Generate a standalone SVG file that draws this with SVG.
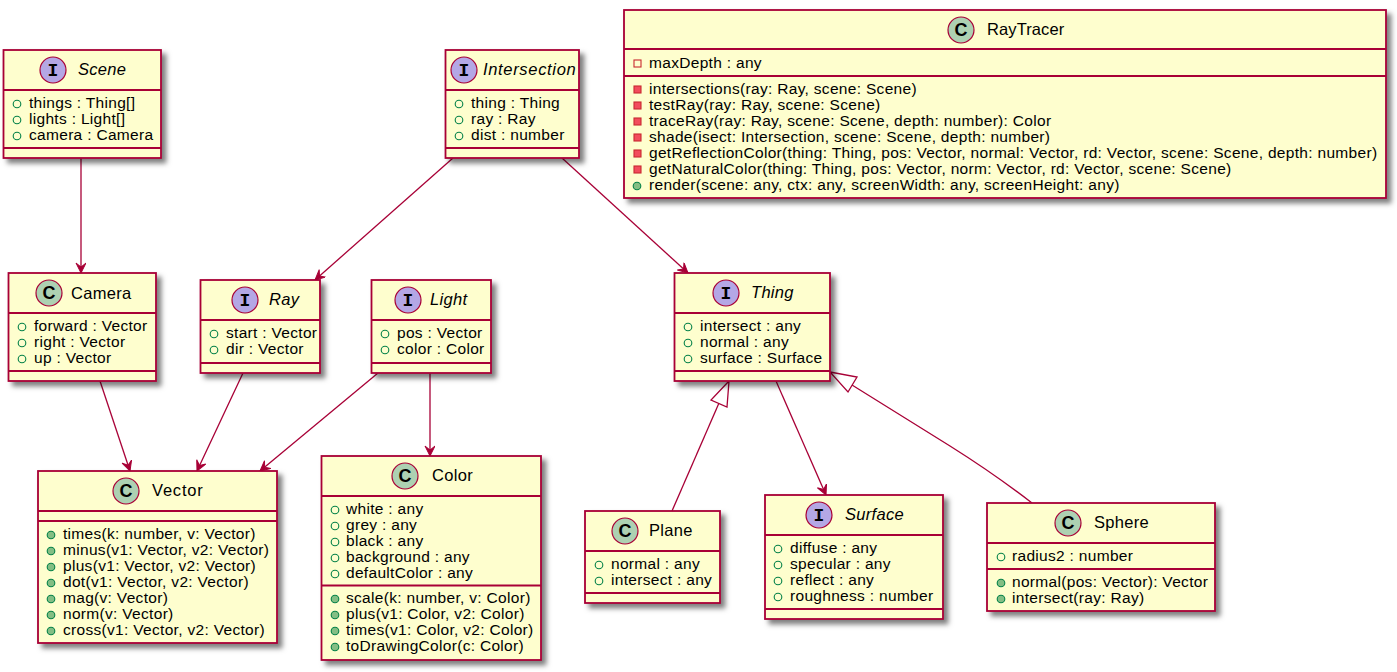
<svg xmlns="http://www.w3.org/2000/svg" width="1397" height="672" viewBox="0 0 1397 672">
<style>
text{font-family:"Liberation Sans",Arial,sans-serif;font-size:15.5px;letter-spacing:.31px;fill:#000}
.t{font-size:16.5px;letter-spacing:.3px}
.a{font-style:italic}
.box{fill:#FEFECE;stroke:#A80036;stroke-width:1.8;filter:url(#sh)}
.ln{stroke:#A80036;stroke-width:1.8;fill:none}
.ic{stroke:#A80036;stroke-width:1.2}
.c{fill:#ADD1B2}
.i{fill:#B4A7E5}
.g{font-family:"Liberation Mono",monospace;font-size:18px;letter-spacing:0;font-weight:bold;text-anchor:middle}
.gc{font-size:18px;letter-spacing:0;font-weight:bold;text-anchor:middle}
.pf{fill:none;stroke:#038048;stroke-width:1.1}
.pm{fill:#84BE84;stroke:#038048;stroke-width:1.1}
.vf{fill:none;stroke:#C82930;stroke-width:1.1}
.vm{fill:#F24D5C;stroke:#C82930;stroke-width:1.1}
.e{stroke:#A80036;stroke-width:1.3;fill:none}
.arr{marker-end:url(#open)}
.inh{fill:#fff;stroke:#A80036;stroke-width:1.3}
</style>
<defs>
<filter id="sh" x="-10%" y="-10%" width="125%" height="125%"><feDropShadow dx="4.5" dy="4.5" stdDeviation="2.5" flood-color="#000" flood-opacity="0.5"/></filter>
<marker id="open" markerUnits="userSpaceOnUse" markerWidth="14" markerHeight="12" refX="12" refY="5" orient="auto"><path d="M2,0 L12,5 L2,10 L6,5 Z" fill="#A80036" stroke="#A80036" stroke-width="1"/></marker>
</defs>
<g id="connectors">
<path class="e arr" d="M81,158 L81,273"/>
<path class="e arr" d="M100,381 L130,471"/>
<path class="e arr" d="M243,373 L197,471"/>
<path class="e arr" d="M378,373 L260,471"/>
<path class="e arr" d="M430,373 L430,456"/>
<path class="e arr" d="M453,158 L315,280"/>
<path class="e arr" d="M562,158 L688,273"/>
<path class="e arr" d="M776,381 L826,495"/>
<path class="e" d="M672,511 L719,403"/>
<path class="inh" d="M729,381 L711,400 L727,407 Z"/>
<path class="e" d="M1032,503 C1010,486 985,468 950,446 L852,385"/>
<path class="inh" d="M830,372 L857,377 L848,392 Z"/>
</g>
<g id="Scene"><rect class="box" x="3.5" y="50" width="157.5" height="108"/><path class="ln" d="M3.5,90H161M3.5,148H161"/><circle class="ic i" cx="53" cy="70" r="13"/><text class="g" x="53" y="76">I</text><text class="t a" x="78" y="75">Scene</text>
<circle class="pf" cx="17" cy="104" r="3.8"/><text x="29" y="108">things : Thing[]</text><circle class="pf" cx="17" cy="120" r="3.8"/><text x="29" y="124">lights : Light[]</text><circle class="pf" cx="17" cy="136" r="3.8"/><text x="29" y="140">camera : Camera</text></g>
<g id="Intersection"><rect class="box" x="445.5" y="50" width="133.5" height="108"/><path class="ln" d="M445.5,90H579M445.5,148H579"/><circle class="ic i" cx="464" cy="70" r="13"/><text class="g" x="464" y="76">I</text><text class="t a" x="483" y="75" textLength="93" lengthAdjust="spacing">Intersection</text>
<circle class="pf" cx="459" cy="104" r="3.8"/><text x="471" y="108">thing : Thing</text><circle class="pf" cx="459" cy="120" r="3.8"/><text x="471" y="124">ray : Ray</text><circle class="pf" cx="459" cy="136" r="3.8"/><text x="471" y="140">dist : number</text></g>
<g id="RayTracer"><rect class="box" x="624" y="10" width="762" height="188"/><path class="ln" d="M624,49H1386M624,76H1386"/><circle class="ic c" cx="961" cy="30" r="13"/><text class="gc" x="961" y="36">C</text><text class="t" x="987" y="35" style="letter-spacing:.1px">RayTracer</text>
<rect class="vf" x="634" y="60" width="7" height="7"/><text x="649" y="68">maxDepth : any</text>
<rect class="vm" x="634" y="86" width="7" height="7"/><text x="649" y="94">intersections(ray: Ray, scene: Scene)</text>
<rect class="vm" x="634" y="102" width="7" height="7"/><text x="649" y="110">testRay(ray: Ray, scene: Scene)</text>
<rect class="vm" x="634" y="118" width="7" height="7"/><text x="649" y="126">traceRay(ray: Ray, scene: Scene, depth: number): Color</text>
<rect class="vm" x="634" y="134" width="7" height="7"/><text x="649" y="142">shade(isect: Intersection, scene: Scene, depth: number)</text>
<rect class="vm" x="634" y="150" width="7" height="7"/><text x="649" y="158">getReflectionColor(thing: Thing, pos: Vector, normal: Vector, rd: Vector, scene: Scene, depth: number)</text>
<rect class="vm" x="634" y="166" width="7" height="7"/><text x="649" y="174">getNaturalColor(thing: Thing, pos: Vector, norm: Vector, rd: Vector, scene: Scene)</text>
<circle class="pm" cx="637" cy="186" r="3.8"/><text x="649" y="190">render(scene: any, ctx: any, screenWidth: any, screenHeight: any)</text></g>
<g id="Camera"><rect class="box" x="8.5" y="273" width="147.5" height="108"/><path class="ln" d="M8.5,313H156M8.5,371H156"/><circle class="ic c" cx="49" cy="293" r="13"/><text class="gc" x="49" y="299">C</text><text class="t" x="71" y="298.500">Camera</text>
<circle class="pf" cx="22" cy="327" r="3.8"/><text x="34" y="331">forward : Vector</text><circle class="pf" cx="22" cy="343" r="3.8"/><text x="34" y="347">right : Vector</text><circle class="pf" cx="22" cy="359" r="3.8"/><text x="34" y="363">up : Vector</text></g>
<g id="Ray"><rect class="box" x="200.5" y="280" width="119.5" height="93"/><path class="ln" d="M200.5,320H320M200.5,363H320"/><circle class="ic i" cx="245" cy="300" r="13"/><text class="g" x="245" y="306">I</text><text class="t a" x="269" y="305">Ray</text>
<circle class="pf" cx="214" cy="334" r="3.8"/><text x="226" y="338">start : Vector</text><circle class="pf" cx="214" cy="350" r="3.8"/><text x="226" y="354">dir : Vector</text></g>
<g id="Light"><rect class="box" x="371.5" y="280" width="119.5" height="93"/><path class="ln" d="M371.5,320H491M371.5,363H491"/><circle class="ic i" cx="408" cy="300" r="13"/><text class="g" x="408" y="306">I</text><text class="t a" x="430" y="305">Light</text>
<circle class="pf" cx="385" cy="334" r="3.8"/><text x="397" y="338">pos : Vector</text><circle class="pf" cx="385" cy="350" r="3.8"/><text x="397" y="354">color : Color</text></g>
<g id="Thing"><rect class="box" x="674.5" y="273" width="155.5" height="108"/><path class="ln" d="M674.5,313H830M674.5,371H830"/><circle class="ic i" cx="726" cy="293" r="13"/><text class="g" x="726" y="299">I</text><text class="t a" x="751" y="298">Thing</text>
<circle class="pf" cx="688" cy="327" r="3.8"/><text x="700" y="331">intersect : any</text><circle class="pf" cx="688" cy="343" r="3.8"/><text x="700" y="347">normal : any</text><circle class="pf" cx="688" cy="359" r="3.8"/><text x="700" y="363">surface : Surface</text></g>
<g id="Vector"><rect class="box" x="38" y="471" width="239" height="172"/><path class="ln" d="M38,511H277M38,521H277"/><circle class="ic c" cx="126" cy="491" r="13"/><text class="gc" x="126" y="497">C</text><text class="t" x="152" y="496" style="letter-spacing:.8px">Vector</text>
<circle class="pm" cx="51" cy="535" r="3.8"/><text x="63" y="539">times(k: number, v: Vector)</text>
<circle class="pm" cx="51" cy="551" r="3.8"/><text x="63" y="555">minus(v1: Vector, v2: Vector)</text>
<circle class="pm" cx="51" cy="567" r="3.8"/><text x="63" y="571">plus(v1: Vector, v2: Vector)</text>
<circle class="pm" cx="51" cy="583" r="3.8"/><text x="63" y="587">dot(v1: Vector, v2: Vector)</text>
<circle class="pm" cx="51" cy="599" r="3.8"/><text x="63" y="603">mag(v: Vector)</text>
<circle class="pm" cx="51" cy="615" r="3.8"/><text x="63" y="619">norm(v: Vector)</text>
<circle class="pm" cx="51" cy="631" r="3.8"/><text x="63" y="635">cross(v1: Vector, v2: Vector)</text></g>
<g id="Color"><rect class="box" x="321.5" y="456" width="219.5" height="204"/><path class="ln" d="M321.5,496H541M321.5,585.5H541"/><circle class="ic c" cx="405" cy="476" r="13"/><text class="gc" x="405" y="482">C</text><text class="t" x="432" y="481">Color</text>
<circle class="pf" cx="335" cy="510" r="3.8"/><text x="346" y="514">white : any</text>
<circle class="pf" cx="335" cy="526" r="3.8"/><text x="346" y="530">grey : any</text>
<circle class="pf" cx="335" cy="542" r="3.8"/><text x="346" y="546">black : any</text>
<circle class="pf" cx="335" cy="558" r="3.8"/><text x="346" y="562">background : any</text>
<circle class="pf" cx="335" cy="574" r="3.8"/><text x="346" y="578">defaultColor : any</text>
<circle class="pm" cx="335" cy="599" r="3.8"/><text x="346" y="603">scale(k: number, v: Color)</text>
<circle class="pm" cx="335" cy="615" r="3.8"/><text x="346" y="619">plus(v1: Color, v2: Color)</text>
<circle class="pm" cx="335" cy="631" r="3.8"/><text x="346" y="635">times(v1: Color, v2: Color)</text>
<circle class="pm" cx="335" cy="647" r="3.8"/><text x="346" y="651">toDrawingColor(c: Color)</text></g>
<g id="Plane"><rect class="box" x="585" y="511" width="135" height="92"/><path class="ln" d="M585,551H720M585,593H720"/><circle class="ic c" cx="625" cy="531" r="13"/><text class="gc" x="625" y="537">C</text><text class="t" x="649" y="536">Plane</text>
<circle class="pf" cx="599" cy="565" r="3.8"/><text x="611" y="569">normal : any</text><circle class="pf" cx="599" cy="581" r="3.8"/><text x="611" y="585">intersect : any</text></g>
<g id="Surface"><rect class="box" x="765" y="495" width="178" height="124"/><path class="ln" d="M765,535H943M765,609H943"/><circle class="ic i" cx="819" cy="515" r="13"/><text class="g" x="819" y="521">I</text><text class="t a" x="845" y="520">Surface</text>
<circle class="pf" cx="778" cy="549" r="3.8"/><text x="790" y="553">diffuse : any</text>
<circle class="pf" cx="778" cy="565" r="3.8"/><text x="790" y="569">specular : any</text>
<circle class="pf" cx="778" cy="581" r="3.8"/><text x="790" y="585">reflect : any</text>
<circle class="pf" cx="778" cy="597" r="3.8"/><text x="790" y="601">roughness : number</text></g>
<g id="Sphere"><rect class="box" x="987" y="503" width="228" height="108"/><path class="ln" d="M987,543H1215M987,569H1215"/><circle class="ic c" cx="1068" cy="523" r="13"/><text class="gc" x="1068" y="529">C</text><text class="t" x="1094" y="528">Sphere</text>
<circle class="pf" cx="1001" cy="557" r="3.8"/><text x="1012" y="561">radius2 : number</text>
<circle class="pm" cx="1001" cy="583" r="3.8"/><text x="1012" y="587">normal(pos: Vector): Vector</text>
<circle class="pm" cx="1001" cy="599" r="3.8"/><text x="1012" y="603">intersect(ray: Ray)</text></g>
</svg>
